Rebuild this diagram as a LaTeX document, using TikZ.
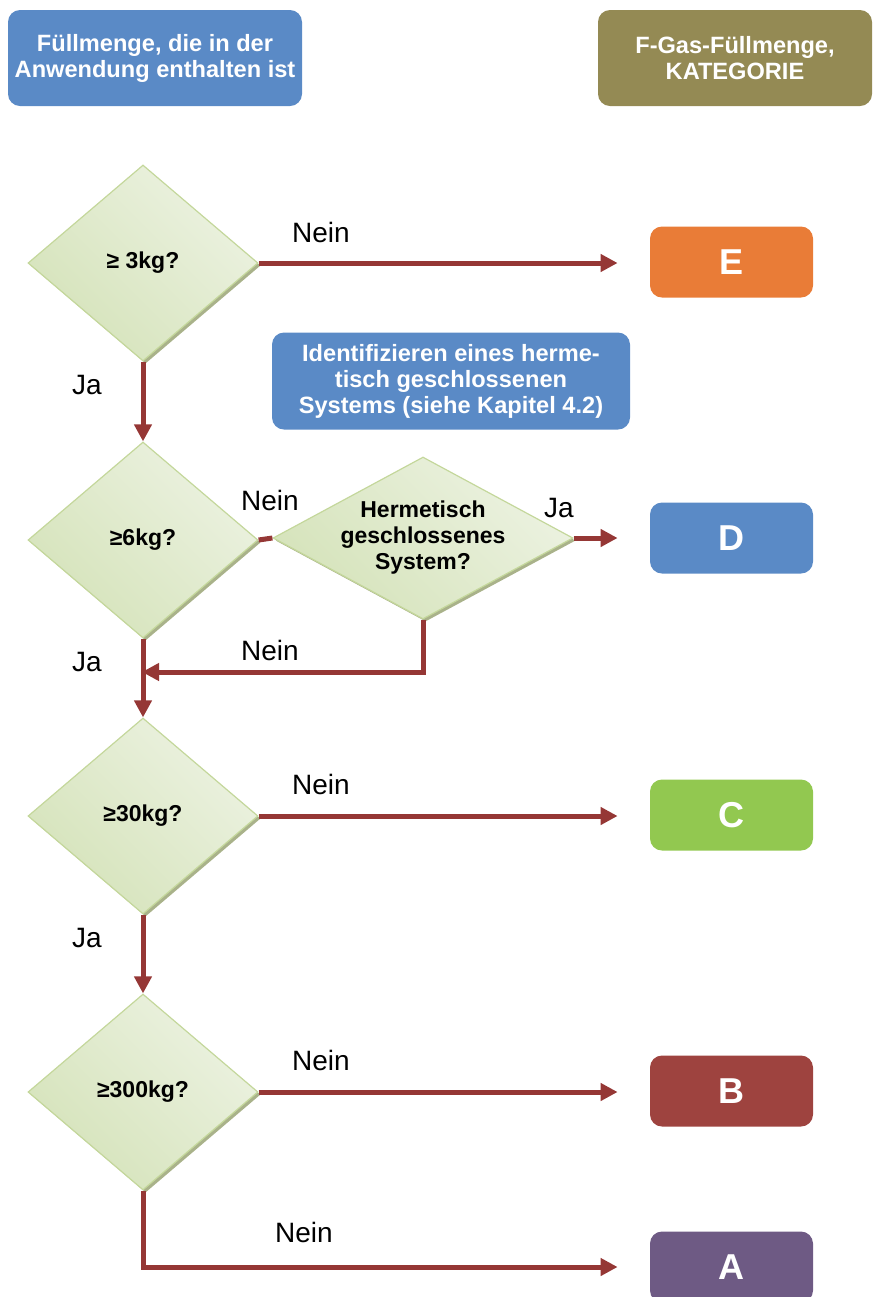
\documentclass[tikz,border=0pt]{standalone}
\usepackage{fontspec}
\setmainfont{Liberation Sans}
\usepackage{tikz}
\usetikzlibrary{shapes.geometric}
\usetikzlibrary{arrows.meta}
\usetikzlibrary{shadows}

\definecolor{kopfblau}{RGB}{90,138,198}
\definecolor{kopfoliv}{RGB}{148,138,84}
\definecolor{katE}{RGB}{233,124,55}
\definecolor{katD}{RGB}{90,138,198}
\definecolor{katC}{RGB}{146,200,80}
\definecolor{katB}{RGB}{158,67,63}
\definecolor{katA}{RGB}{110,90,132}
\definecolor{pfeilrot}{RGB}{149,55,53}
\definecolor{rautehell}{RGB}{236,242,225}
\definecolor{rautedunkel}{RGB}{213,227,186}
\definecolor{rauterand}{RGB}{196,215,155}
\definecolor{rauteschatten}{RGB}{160,170,125}

\tikzset{
	frage/.style={diamond, draw=rauterand, line width=0.6pt, left color=rautedunkel, right color=rautehell, shading angle=135, drop shadow={shadow xshift=1.3pt, shadow yshift=-1.3pt, fill=rauteschatten, opacity=0.9}, inner sep=-6pt, align=center, font=\bfseries\fontsize{11.5}{13}\selectfont},
	kasten/.style={rounded corners=6pt, text=white, align=center, inner sep=0pt, font=\bfseries\fontsize{11.8}{13}\selectfont},
	kat/.style={kasten, minimum width=81.5pt, minimum height=35.5pt, font=\bfseries\fontsize{18}{20}\selectfont},
	pfeil/.style={line width=2.5pt, draw=pfeilrot, -{Triangle[length=8.5pt, width=8.5pt]}},
	linie/.style={line width=2.5pt, draw=pfeilrot},
	antwort/.style={font=\fontsize{14}{16}\selectfont}
}

\begin{document}
\begin{tikzpicture}
				\begin{scope}[x=0.5pt, y=-0.5pt]
					
					\useasboundingbox (0,0) rectangle (873,1297);
					
					\node[kasten, fill=kopfblau, minimum width=147pt, minimum height=48pt] (anwendung) at (155,58) {Füllmenge, die in der\\Anwendung enthalten ist};
					\node[kasten, fill=kopfoliv, minimum width=137pt, minimum height=48pt] (kategorie) at (735,58) {F-Gas-Füllmenge,\\KATEGORIE};
					\node[kasten, fill=kopfblau, minimum width=179pt, minimum height=48.5pt] (identifizieren) at (451,381) {Identifizieren eines herme-\\tisch geschlossenen\\Systems (siehe Kapitel 4.2)};
					
					\node[frage, minimum width=115pt, minimum height=98pt] (1) at (143,263) {≥ 3kg?};
					\node[frage, minimum width=115pt, minimum height=98pt] (2) at (143,540) {≥6kg?};
					\node[frage, minimum width=115pt, minimum height=98pt] (3) at (143,816) {≥30kg?};
					\node[frage, minimum width=115pt, minimum height=98pt] (4) at (143,1092) {≥300kg?};
					\node[frage, inner sep=-11pt, minimum width=150pt, minimum height=81pt] (h) at (423,538) {Hermetisch\\geschlossenes\\System?};
					
					\node[kat, fill=katE] (E) at (731.5,262) {E};
					\node[kat, fill=katD] (D) at (731.5,538) {D};
					\node[kat, fill=katC] (C) at (731.5,815) {C};
					\node[kat, fill=katB] (B) at (731.5,1091) {B};
					\node[kat, fill=katA] (A) at (731.5,1267) {A};
					
					\coordinate (einmuendung) at (142,672);
					
					
					\draw[pfeil, shorten >=16pt] (1.east) -- (1.east -| E.west);
					\draw[pfeil] (1.south) -- (2.north);
					\draw[linie] (2.east) -- (h.west);
					\draw[pfeil, shorten >=16pt] (h.east) -- (h.east -| D.west);
					\draw[pfeil] (h.south) |- (einmuendung);
					\draw[pfeil] (2.south) -- (3.north);
					\draw[pfeil, shorten >=16pt] (3.east) -- (3.east -| C.west);
					\draw[pfeil] (3.south) -- (4.north);
					\draw[pfeil, shorten >=16pt] (4.east) -- (4.east -| B.west);
					\draw[pfeil, shorten >=16pt] (4.south) |- (A.west);
					
					
					\node[antwort] (nein1) at (321,232) {Nein};
					\node[antwort] (ja1) at (87,385) {Ja};
					\node[antwort] (nein2) at (270,500) {Nein};
					\node[antwort] (ja2) at (559,508) {Ja};
					\node[antwort] (nein3) at (270,650) {Nein};
					\node[antwort] (ja3) at (87,662) {Ja};
					\node[antwort] (nein4) at (321,784) {Nein};
					\node[antwort] (ja4) at (87,938) {Ja};
					\node[antwort] (nein5) at (321,1060) {Nein};
					\node[antwort] (nein6) at (304,1232) {Nein};
					
				\end{scope}
			\end{tikzpicture}
\end{document}
